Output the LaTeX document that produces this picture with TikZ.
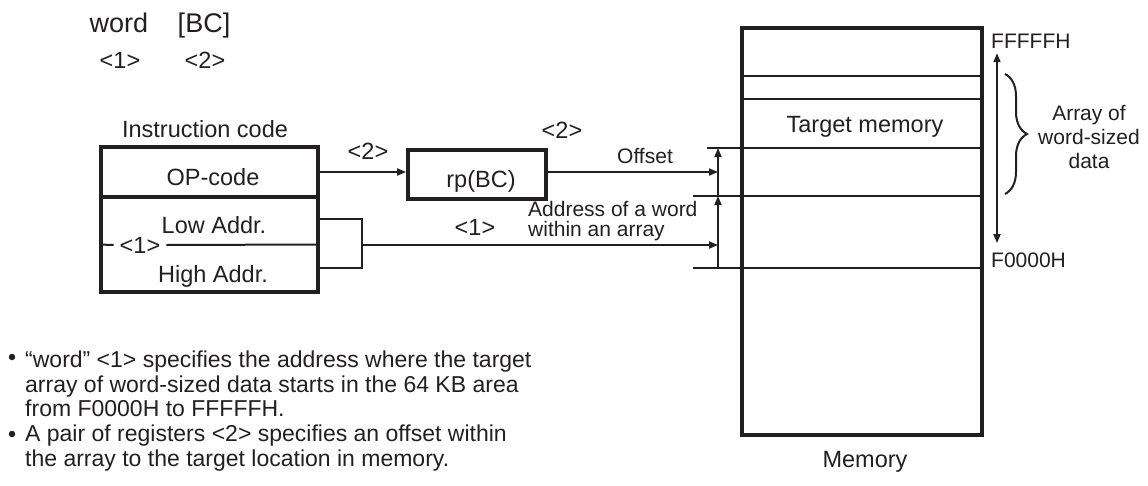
\documentclass[tikz,border=0pt]{standalone}
\usepackage{fontspec}
\setmainfont{Liberation Sans}
\usetikzlibrary{arrows.meta, decorations.pathreplacing}
\definecolor{ink}{HTML}{231F20}
\tikzset{
  >={Triangle[length=9pt,width=7pt]},
  thickbox/.style={draw=ink, line width=3.8pt, inner sep=0pt},
  wire/.style={draw=ink, line width=2pt},
  arr/.style={->, draw=ink, line width=1.8pt},
  lbl/.style={text=ink, inner sep=0pt, font=\fontsize{23.5}{26}\selectfont},
  big/.style={text=ink, inner sep=0pt, font=\fontsize{27}{30}\selectfont},
  small/.style={text=ink, inner sep=0pt, align=left, font=\fontsize{21}{20}\selectfont},
  body/.style={text=ink, inner sep=0pt, align=left, font=\fontsize{23}{24.5}\selectfont},
  dot/.style={circle, fill=ink, inner sep=0pt, minimum size=6.5pt},
}
\begin{document}
\begin{tikzpicture}[x=1pt, y=-1pt]
\useasboundingbox (0,0) rectangle (1148,485);
% syntax
\node[big, anchor=base] (word) at (119,32) {word};
\node[big, anchor=base] (bc) at (204,32) {[BC]};
\node[lbl] (w1) at (120,60) {<1>};
\node[lbl] (w2) at (205,60) {<2>};

% instruction code
\node[lbl, anchor=base] (insn) at (205,137) {Instruction code};
\node[thickbox, minimum width=217pt, minimum height=50pt] (opcode) at (209.5,172) {};
\node[thickbox, minimum width=217pt, minimum height=95pt] (addr) at (209.5,244.5) {};
\node[lbl, anchor=base] (optxt) at (213,185) {OP-code};
\node[lbl, anchor=base] (lowtxt) at (214,233) {Low Addr.};
\node[lbl, anchor=base] (hightxt) at (213,282) {High Addr.};
\node[lbl, inner xsep=6pt] (one) at (140,245) {<1>};
\draw[wire] (addr.west) -- (one.west);
\draw[wire] (one.east) -- (addr.east);
\coordinate (lowend) at (318,219);
\coordinate (highend) at (318,268);
\coordinate (join) at (362,245);
\draw[wire] (lowend) -| (join) |- (highend);

% register pair
\node[thickbox, minimum width=138pt, minimum height=49pt] (rp) at (477,174.5) {};
\node[lbl, anchor=base] (rptxt) at (481,187) {rp(BC)};
\node[lbl] (two) at (368,151) {<2>};
\node[lbl] (tworp) at (562,130) {<2>};
\draw[arr] (opcode.east) -- (opcode.east -| rp.west);

% offset marks
\coordinate (top) at (718,148);
\coordinate (mid) at (718,196);
\coordinate (bot) at (718,268);
\draw[arr] (opcode.east -| rp.east) -- (opcode.east -| top);
\node[small, anchor=base] (offset) at (645,163) {Offset};
\draw[arr] (join) -- (join -| top);
\node[lbl] (one2) at (475,227) {<1>};
\node[small, anchor=west] (addrlbl) at (528,221) {Address of a word\\within an array};
\draw[arr] (bot) -- (mid);
\draw[arr] (mid) -- (top);

% memory
\node[thickbox, minimum width=240pt, minimum height=407pt] (mem) at (862,231.5) {};
\foreach \y/\x in {76/742, 99/742, 148/707, 196/693, 268/693}
  \draw[wire] (\x,\y) -- (mem.east |- 0,\y);
\node[lbl, anchor=base] (target) at (865,132) {Target memory};
\node[lbl, anchor=base] (memlbl) at (865,467) {Memory};
\node[small, anchor=base west] (hiaddr) at (991,48) {FFFFFH};
\node[small, anchor=base west] (loaddr) at (991,267) {F0000H};
\draw[arr, <->] ([shift={(6,5)}]hiaddr.south west) -- ([shift={(6,-9)}]loaddr.north west);
\draw[ink, line width=2pt, decorate, decoration={brace, amplitude=22pt}] (1005,74) -- (1005,194);
\node[small, align=center, font=\fontsize{21}{24}\selectfont] (arraylbl) at (1089,137) {Array of\\word-sized\\data};

% notes
\node[dot] (dot1) at (12,357) {};
\node[body, anchor=west] (note1) at (25,384) {“word” <1> specifies the address where the target\\array of word-sized data starts in the 64 KB area\\from F0000H to FFFFFH.};
\node[dot] (dot2) at (12,434) {};
\node[body, anchor=west] (note2) at (25,448) {A pair of registers <2> specifies an offset within\\the array to the target location in memory.};
\end{tikzpicture}
\end{document}
